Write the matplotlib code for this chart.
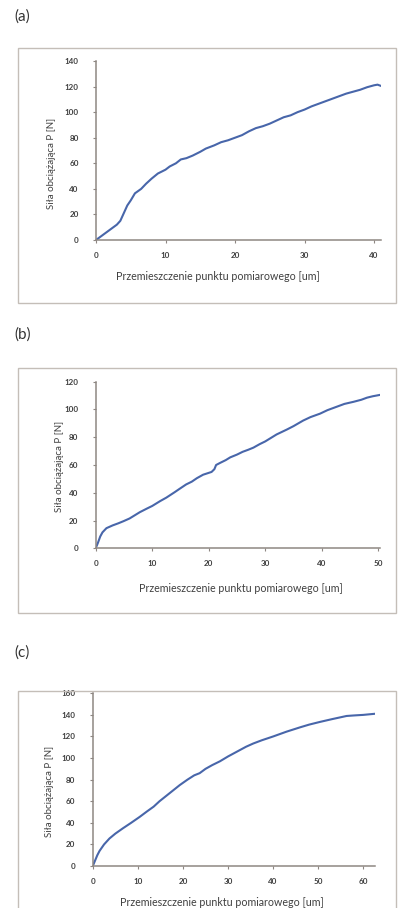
import matplotlib
matplotlib.use('Agg')
import matplotlib.pyplot as plt
from matplotlib.patches import Rectangle

plt.rcParams['font.family'] = ['Lato', 'DejaVu Sans']

# === dane ===
# (a)
xa = [0, 1, 2, 3, 3.5, 4, 4.5, 5, 5.6, 6.5, 7.2, 8, 8.9, 10, 10.6, 11.5, 12.2, 13, 13.9, 15,
      15.8, 17, 18, 19, 20, 21, 22, 23, 24, 25, 26, 27, 28, 29, 30, 31, 32, 33, 34, 35,
      36, 37, 38, 39, 40, 40.5, 41]
ya = [0, 4, 8, 12, 15, 21, 27, 31, 36.5, 40, 44, 48, 52, 55, 57.5, 60, 63, 64, 66, 69,
      71.5, 74, 76.5, 78, 80, 82, 85, 87.5, 89, 91, 93.5, 96, 97.5, 100, 102, 104.5, 106.5, 108.5, 110.5, 112.5,
      114.5, 116, 117.5, 119.5, 121, 121.5, 120.5]

# (b)
xb = [0, 0.4, 0.8, 1.2, 1.9, 3, 4, 4.9, 6, 7, 7.8, 9, 10, 11.4, 12.5, 14, 14.9, 16, 17, 17.9,
      19, 20.5, 21, 21.3, 22, 23, 23.8, 25, 26, 27, 27.9, 29, 30, 31, 32, 33.8, 35, 36.7, 38, 39.7,
      41, 42, 43, 44, 45.6, 47, 48, 49, 50.3]
yb = [0, 4, 8.5, 11.5, 14.5, 16.5, 18, 19.5, 21.5, 24, 26, 28.5, 30.5, 34, 36.5, 40.5, 43, 46, 48, 50.5,
      53, 55, 57, 60, 61.5, 63.5, 65.5, 67.5, 69.5, 71, 72.5, 75, 77, 79.5, 82, 85.5, 88, 92, 94.5, 97,
      99.5, 101, 102.5, 104, 105.5, 107, 108.5, 109.5, 110.5]

# (c)
xc = [0, 0.5, 1, 1.5, 2.5, 3.7, 5, 6.7, 8.5, 10.4, 12, 13.5, 14.8, 16, 17.5, 19.3, 21, 22.5, 23.7, 25,
      26.5, 28.2, 30, 32, 34, 35.6, 37.5, 40, 43, 46, 48, 50.4, 53, 56.3, 58, 60, 62.5]
yc = [0, 5, 10, 14, 20, 25.5, 30, 35, 40, 45.5, 50.5, 55, 60, 64, 69, 75, 80, 84, 86, 90,
      93.5, 97, 101.5, 106, 110.5, 113.5, 116.5, 120, 124.5, 128.5, 131, 133.5, 136, 139, 139.5, 140, 141]

panel_labels = ['(a)', '(b)', '(c)']
xlabel = 'Przemieszczenie punktu pomiarowego [um]'
ylabel = 'Siła obciążająca P [N]'
xticks_all = [[0, 10, 20, 30, 40], [0, 10, 20, 30, 40, 50], [0, 10, 20, 30, 40, 50, 60]]
yticks_all = [list(range(0, 141, 20)), list(range(0, 121, 20)), list(range(0, 161, 20))]
xmax_all = [41, 50.3, 62.6]

W, H = 401, 908
fig = plt.figure(figsize=(W / 100, H / 100), dpi=100)
fig.patch.set_facecolor('white')

def fx(px):
    return px / W

def fy(py):
    return 1 - py / H

# uklad w pikselach: (lewo, prawo, gora, dol) osi, ramka, etykieta panelu
axes_px = [(96, 381, 61, 240), (95.7, 380, 381.7, 548.3), (92.8, 375, 693.3, 866)]
frames_px = [(18, 396, 48, 303), (18, 396, 368, 613), (18, 396, 691, 925)]
label_px = [(14, 17), (14, 335), (14, 653)]
xlab_pos = [(218, 277), (241, 588), (222, 903)]
ylab_pos = [(52, 163), (60, 466), (49, 791)]

line_color = '#4866aa'
spine_color = '#8e8782'
text_color = '#3f3f3f'

for i, (xs, ys) in enumerate([(xa, ya), (xb, yb), (xc, yc)]):
    l, r, t, b = axes_px[i]
    ax = fig.add_axes([fx(l), fy(b), (r - l) / W, (b - t) / H])
    ax.plot(xs, ys, color=line_color, lw=1.5)
    ax.set_xlim(0, xmax_all[i])
    ax.set_ylim(0, yticks_all[i][-1])
    ax.set_xticks(xticks_all[i])
    ax.set_yticks(yticks_all[i])
    for s in ['top', 'right']:
        ax.spines[s].set_visible(False)
    for s in ['left', 'bottom']:
        ax.spines[s].set_color(spine_color)
        ax.spines[s].set_linewidth(1.1)
    ax.tick_params(axis='both', colors=spine_color, labelcolor=text_color,
                   labelsize=5.8, length=2.5, width=0.8)
    for lab in ax.get_xticklabels() + ax.get_yticklabels():
        lab.set_fontweight('bold')
    ax.tick_params(axis='y', pad=10)
    ax.tick_params(axis='x', pad=6)
    ax.patch.set_alpha(0)

    # podpisy osi
    fig.text(fx(xlab_pos[i][0]), fy(xlab_pos[i][1]), xlabel, ha='center', va='center',
             fontsize=7.7, color=text_color)
    fig.text(fx(ylab_pos[i][0]), fy(ylab_pos[i][1]), ylabel, ha='center', va='center',
             rotation=90, fontsize=7.0, color=text_color)

    # ramka wokol wykresu
    fl, fr, ft, fb = frames_px[i]
    fig.patches.append(Rectangle((fx(fl), fy(fb)), (fr - fl) / W, (fb - ft) / H,
                                 transform=fig.transFigure, fill=False,
                                 edgecolor='#c4beb8', lw=1.0, zorder=0))

    fig.text(fx(label_px[i][0]), fy(label_px[i][1]), panel_labels[i], ha='left', va='center',
             fontsize=11, color='#333333')

fig.savefig('out.png', dpi=100)
